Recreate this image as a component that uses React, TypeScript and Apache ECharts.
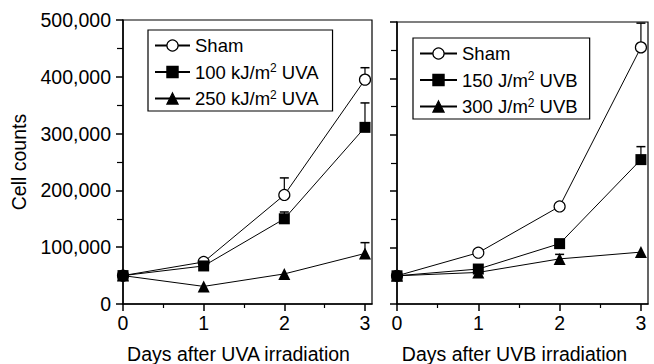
import React, { useEffect, useRef } from "react";
import * as echarts from "echarts";

const days = [0, 1, 2, 3];
const yTicks = [0, 100000, 200000, 300000, 400000, 500000];

// UVA panel
const uvaSham = [50000, 74000, 192000, 395000];
const uvaShamTop = [null, null, 222000, 416000];
const uva100 = [50000, 67000, 150000, 311000];
const uva100Top = [null, null, 162000, 354000];
const uva250 = [50000, 31000, 53000, 89000];
const uva250Top = [null, null, null, 108000];

// UVB panel
const uvbSham = [50000, 91000, 173000, 455000];
const uvbShamTop = [null, null, null, 498000];
const uvb150 = [50000, 62000, 107000, 256000];
const uvb150Top = [null, null, null, 279000];
const uvb300 = [50000, 56000, 80000, 92000];
const uvb300Top = [null, null, 88000, null];

const legendLabels: Record<string, string> = {
  A_sham: "{t|Sham}",
  A_100: "{t|100 kJ/m}{s|2}{t| UVA}",
  A_250: "{t|250 kJ/m}{s|2}{t| UVA}",
  B_sham: "{t|Sham}",
  B_150: "{t|150 J/m}{s|2}{t| UVB}",
  B_300: "{t|300 J/m}{s|2}{t| UVB}",
};

const FONT = "'Liberation Sans', Arial, Helvetica, sans-serif";

const pts = (vals: number[]) => days.map((d, i) => [d, vals[i]]);
const errPts = (vals: number[], tops: (number | null)[]) =>
  days
    .map((d, i) => (tops[i] == null ? null : [d, vals[i], tops[i]]))
    .filter((p) => p !== null);

export default function App() {
  const ref = useRef<HTMLDivElement>(null);
  useEffect(() => {
    if (!ref.current) return;
    const chart = echarts.init(ref.current, null, { renderer: "svg" });

    const xMax = 3.087;
    const makeXMajor = (grid: number, name: string, shift: number) => ({
      type: "value",
      gridIndex: grid,
      position: "bottom",
      min: 0,
      max: xMax,
      name,
      nameLocation: "middle",
      nameGap: 40,
      nameTextStyle: {
        fontFamily: FONT,
        fontSize: 19.5,
        color: "#000",
        padding: [0, shift, 0, 0],
      },
      axisLine: { show: true, lineStyle: { color: "#000", width: 1.5 } },
      axisTick: {
        show: true,
        customValues: days,
        length: 7,
        lineStyle: { color: "#000", width: 1.5 },
      },
      axisLabel: {
        show: true,
        customValues: days,
        margin: 9,
        fontFamily: FONT,
        fontSize: 19.5,
        color: "#000",
      },
      splitLine: { show: false },
    });
    const makeXMinor = (grid: number) => ({
      type: "value",
      gridIndex: grid,
      position: "bottom",
      min: 0,
      max: xMax,
      axisLine: { show: false },
      axisTick: {
        show: true,
        customValues: [0.5, 1.5, 2.5],
        length: 4,
        lineStyle: { color: "#000", width: 1.2 },
      },
      axisLabel: { show: false },
      splitLine: { show: false },
    });
    const makeY = (grid: number, showLabels: boolean) => ({
      type: "value",
      gridIndex: grid,
      min: 0,
      max: 500000,
      interval: 100000,
      name: showLabels ? "Cell counts" : "",
      nameLocation: "middle",
      nameGap: 94,
      nameTextStyle: { fontFamily: FONT, fontSize: 19.5, color: "#000" },
      axisLine: { show: true, lineStyle: { color: "#000", width: 1.5 } },
      axisTick: { show: true, length: 7, lineStyle: { color: "#000", width: 1.5 } },
      minorTick: { show: true, splitNumber: 2, length: 6, lineStyle: { color: "#000", width: 1.2 } },
      axisLabel: {
        show: showLabels,
        margin: 12,
        fontFamily: FONT,
        fontSize: 19.5,
        color: "#000",
        formatter: (v: number) => v.toLocaleString("en-US"),
      },
      splitLine: { show: false },
      minorSplitLine: { show: false },
    });

    const lineSeries = (
      name: string,
      vals: number[],
      symbol: string,
      size: number,
      open: boolean,
      xi: number,
      yi: number
    ) => ({
      name,
      type: "line",
      xAxisIndex: xi,
      yAxisIndex: yi,
      data: pts(vals),
      symbol,
      symbolSize: size,
      showAllSymbol: true,
      z: 3,
      lineStyle: { color: "#000", width: 1 },
      itemStyle: open
        ? { color: "#fff", borderColor: "#000", borderWidth: 1.2 }
        : { color: "#000", borderColor: "#000", borderWidth: 0 },
      emphasis: { disabled: true },
    });

    const errSeries = (vals: number[], tops: (number | null)[], xi: number, yi: number) => ({
      type: "custom",
      xAxisIndex: xi,
      yAxisIndex: yi,
      z: 2,
      silent: true,
      data: errPts(vals, tops),
      renderItem: (_p: any, api: any) => {
        const x = api.value(0);
        const p1 = api.coord([x, api.value(1)]);
        const p2 = api.coord([x, api.value(2)]);
        return {
          type: "group",
          children: [
            {
              type: "line",
              shape: { x1: p1[0], y1: p1[1], x2: p2[0], y2: p2[1] },
              style: { stroke: "#000", lineWidth: 1.2 },
            },
            {
              type: "line",
              shape: { x1: p2[0] - 4.5, y1: p2[1], x2: p2[0] + 4.5, y2: p2[1] },
              style: { stroke: "#000", lineWidth: 1.5 },
            },
          ],
        };
      },
    });

    const legendBase = {
      orient: "vertical",
      selectedMode: false,
      itemWidth: 35,
      itemHeight: 14,
      itemGap: 7,
      backgroundColor: "#fff",
      borderColor: "#000",
      borderWidth: 1.2,
      borderRadius: 0,
      itemStyle: { borderWidth: 1.2 },
      formatter: (n: string) => legendLabels[n] || n,
      textStyle: {
        fontFamily: FONT,
        color: "#000",
        rich: {
          t: { fontFamily: FONT, fontSize: 18.5, lineHeight: 20, color: "#000" },
          s: { fontFamily: FONT, fontSize: 12, lineHeight: 12, verticalAlign: "top", color: "#000" },
        },
      },
    };

    chart.setOption({
      animation: false,
      backgroundColor: "#fff",
      grid: [
        {
          left: 123,
          top: 20,
          width: 249,
          height: 284,
          show: true,
          borderColor: "#000",
          borderWidth: 1.2,
          backgroundColor: "transparent",
          containLabel: false,
          outerBoundsMode: "none",
        },
        {
          left: 397,
          top: 22,
          width: 251,
          height: 282,
          show: true,
          borderColor: "#000",
          borderWidth: 1.2,
          backgroundColor: "transparent",
          containLabel: false,
          outerBoundsMode: "none",
        },
      ],
      xAxis: [
        makeXMajor(0, "Days after UVA irradiation", 18),
        makeXMinor(0),
        makeXMajor(1, "Days after UVB irradiation", 16),
        makeXMinor(1),
      ],
      yAxis: [makeY(0, true), makeY(1, false)],
      legend: [
        {
          ...legendBase,
          left: 148,
          top: 30,
          padding: [6, 14, 3, 6],
          data: ["A_sham", "A_100", "A_250"],
        },
        {
          ...legendBase,
          itemWidth: 37,
          left: 413,
          top: 38,
          padding: [6, 12, 3, 6],
          data: ["B_sham", "B_150", "B_300"],
        },
      ],
      series: [
        errSeries(uvaSham, uvaShamTop, 0, 0),
        errSeries(uva100, uva100Top, 0, 0),
        errSeries(uva250, uva250Top, 0, 0),
        lineSeries("A_sham", uvaSham, "circle", 11, true, 0, 0),
        lineSeries("A_250", uva250, "triangle", 12, false, 0, 0),
        lineSeries("A_100", uva100, "rect", 11, false, 0, 0),
        errSeries(uvbSham, uvbShamTop, 2, 1),
        errSeries(uvb150, uvb150Top, 2, 1),
        errSeries(uvb300, uvb300Top, 2, 1),
        lineSeries("B_sham", uvbSham, "circle", 11, true, 2, 1),
        lineSeries("B_300", uvb300, "triangle", 12, false, 2, 1),
        lineSeries("B_150", uvb150, "rect", 11, false, 2, 1),
      ],
    });
    return () => chart.dispose();
  }, []);

  return (
    <div
      ref={ref}
      style={{ position: "absolute", left: 0, top: 0, width: 654, height: 364 }}
    />
  );
}
